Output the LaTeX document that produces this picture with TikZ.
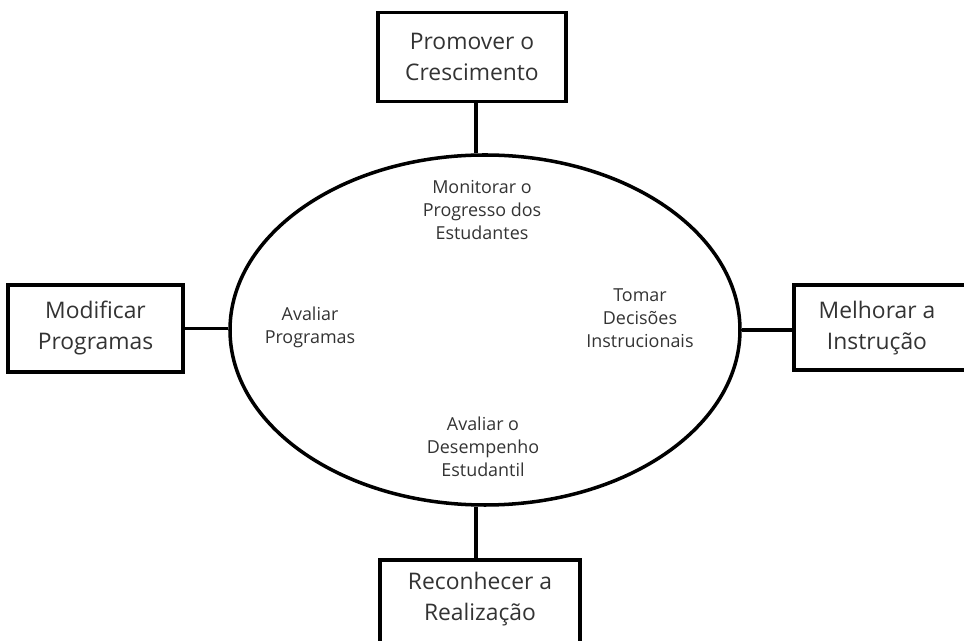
\documentclass[tikz,border=0pt]{standalone}
\usepackage{fontspec}
\setmainfont{Open Sans}
\usetikzlibrary{shapes.geometric}
\begin{document}
\begin{tikzpicture}[x=0.02cm,y=-0.02cm,
  frame/.style={draw=black, line width=2pt, fill=white, inner sep=0pt},
  outertext/.style={align=center, inner sep=0pt,
    font=\fontsize{13}{18}\selectfont, text=black!80},
  innertext/.style={align=center, inner sep=0pt,
    font=\fontsize{10.2}{13}\selectfont, text=black!80},
  link/.style={line width=2pt}]
\useasboundingbox (0,0) rectangle (964,641);

% central ring
\node[draw, line width=2pt, ellipse, minimum width=510*0.02cm, minimum height=350*0.02cm,
  inner sep=0pt] (ring) at (485,330) {};

% activities inside the ring
\node[innertext] (monitor) at (482,210) {Monitorar o\\Progresso dos\\Estudantes};
\node[innertext] (avprog) at (310,327) {Avaliar\\Programas};
\node[innertext] (tomar) at (640,318) {Tomar\\Decisões\\Instrucionais};
\node[innertext] (avdes) at (483,447) {Avaliar o\\Desempenho\\Estudantil};

% outcome boxes around the ring
\node[frame, minimum width=188*0.02cm, minimum height=89*0.02cm] (promover) at (472,57) {};
\node[outertext] (promovertxt) at (472,57) {Promover o\\Crescimento};

\node[frame, minimum width=175*0.02cm, minimum height=87*0.02cm] (modificar) at (95.5,328.5) {};
\node[outertext] (modificartxt) at (95.5,328) {Modificar\\Programas};

\node[frame, minimum width=230*0.02cm, minimum height=85*0.02cm, anchor=west] (melhorar) at (792,327.5) {};
\node[outertext] (melhorartxt) at (877,328) {Melhorar a\\Instrução};

\node[frame, minimum width=200*0.02cm, minimum height=120*0.02cm, anchor=north] (reconhecer) at (480,558) {};
\node[outertext] (reconhecertxt) at (480,599) {Reconhecer a\\Realização};

% connectors
\draw[link] (promover.south -| ring.93) -- (ring.93);
\draw[link] (modificar.east) -- (ring.west |- modificar.east);
\draw[link] (ring.east) -- (melhorar.west |- ring.east);
\draw[link] (ring.267) -- (reconhecer.north -| ring.267);
\end{tikzpicture}
\end{document}
